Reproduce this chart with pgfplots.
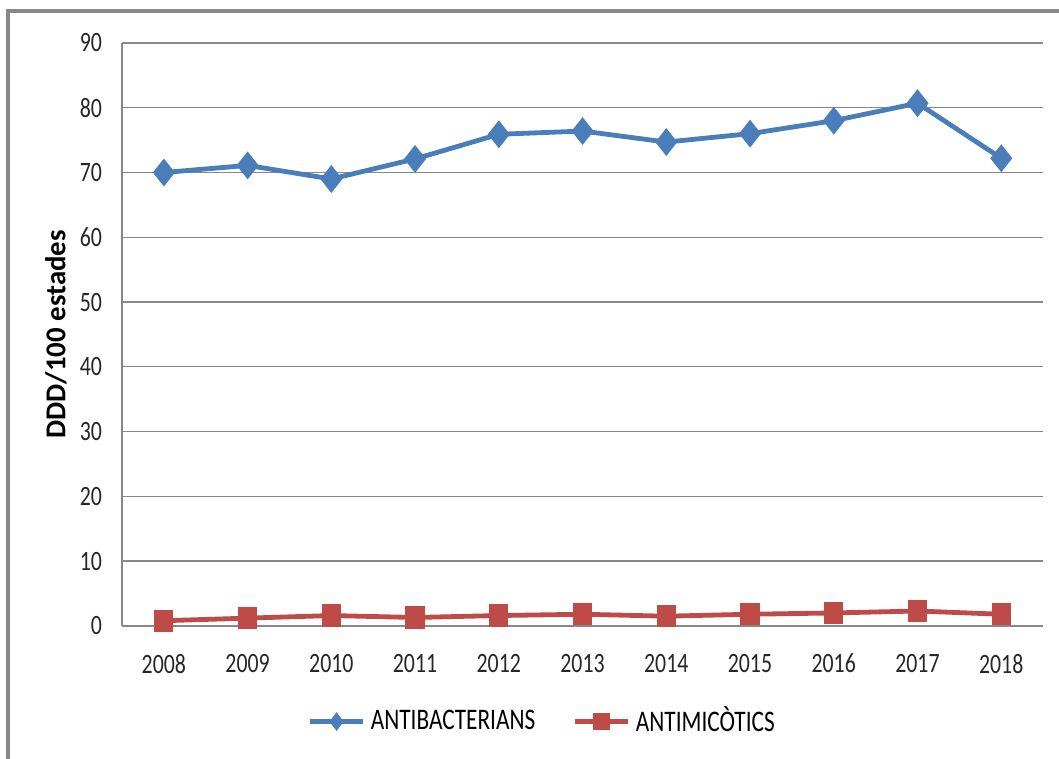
\documentclass[border=0pt]{standalone}
\usepackage{pgfplots}
\pgfplotsset{compat=1.18}
\usepackage{fontspec}
\setmainfont[FakeStretch=0.78]{Carlito}
\newfontfamily\labelfont{Carlito}
\definecolor{antibac}{HTML}{4A7EBB}
\definecolor{antimic}{HTML}{BE4B48}
\definecolor{gridgray}{HTML}{888888}

\pgfplotstableread{
year  val
2008  70.0
2009  71.1
2010  69.0
2011  72.1
2012  75.9
2013  76.4
2014  74.7
2015  76.0
2016  78.0
2017  80.7
2018  72.2
}\antibacterians

\pgfplotstableread{
year  val
2008  0.8
2009  1.2
2010  1.6
2011  1.3
2012  1.6
2013  1.8
2014  1.5
2015  1.8
2016  2.0
2017  2.3
2018  1.8
}\antimicotics

\begin{document}
\begin{tikzpicture}
\useasboundingbox (0pt,0pt) rectangle (397.1pt,284.6pt);
% chart frame (left and top edges visible)
\draw[gridgray, line width=1.2pt] (3pt,-5pt) -- (3pt,280.5pt) -- (402pt,280.5pt);

\begin{axis}[
    at={(45.75pt,49.9pt)}, anchor=south west,
    scale only axis,
    width=345.4pt, height=218.6pt,
    xmin=2007.5, xmax=2018.5,
    ymin=0, ymax=90,
    xtick={2008,...,2018},
    ytick={0,10,...,90},
    xticklabel style={/pgf/number format/1000 sep={}},
    /pgf/number format/assume math mode=true,
    tick label style={font=\fontsize{10.5}{12}\selectfont, color=black!85},
    axis x line*=bottom, axis y line*=left,
    x axis line style={draw=none},
    y axis line style={draw=gridgray, line width=0.4pt},
    major tick length=0pt,
    ymajorgrids,
    grid style={gridgray, line width=0.5pt},
    yticklabel style={xshift=-4pt},
    xticklabel style={yshift=-7pt},
    ylabel={\bfseries DDD/100 estades},
    ylabel style={font=\labelfont\fontsize{10.8}{12}\selectfont, yshift=-2pt},
    clip=false,
    legend style={
        at={(0.458,-0.12)}, anchor=north, draw=none,
        legend columns=2,
        font=\fontsize{11.2}{13}\selectfont,
        /tikz/every even column/.append style={column sep=12pt},
    },
    legend image code/.code={
        \draw[#1, mark repeat=2, mark phase=2]
            plot coordinates {(0cm,0cm) (0.35cm,0cm) (0.7cm,0cm)};
    },
]
\addplot[forget plot, color=antibac, line width=1.8pt, mark=diamond*,
    mark size=5pt, mark options={solid, fill=antibac, line width=0.6pt, yscale=0.95}]
    table[x=year, y=val] {\antibacterians};
\addplot[forget plot, color=antimic, line width=1.8pt, mark=square*,
    mark size=3.3pt, mark options={solid, fill=antimic, line width=0.6pt, yscale=1.17}]
    table[x=year, y=val] {\antimicotics};

\addlegendimage{color=antibac, line width=1.8pt, mark=diamond*,
    mark size=3.2pt, mark options={solid, fill=antibac, line width=0.4pt}}
\addlegendentry{ANTIBACTERIANS}
\addlegendimage{color=antimic, line width=1.8pt, mark=square*,
    mark size=3.1pt, mark options={solid, fill=antimic, line width=0.4pt}}
\addlegendentry{ANTIMICÒTICS}
\end{axis}
\end{tikzpicture}
\end{document}
